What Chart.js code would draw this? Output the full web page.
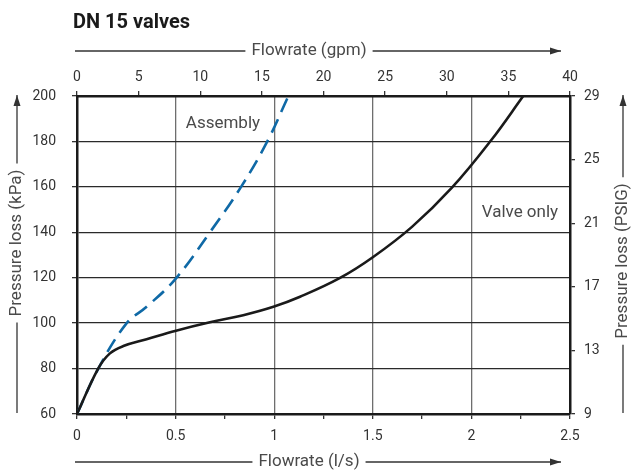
<!DOCTYPE html>
<html>
<head>
<meta charset="utf-8">
<script src="https://cdn.jsdelivr.net/npm/chart.js@4"></script>
<style>
  html, body { margin: 0; padding: 0; background: #fff; }
  #wrap { width: 638px; height: 471px; }
</style>
</head>
<body>
<div id="wrap"><canvas id="chart" width="638" height="471"></canvas></div>
<script>
// flowrate (l/s) and pressure loss (kPa)
const valveFlow = [0, 0.108, 0.167, 0.235, 0.353, 0.502, 0.674, 0.843, 0.996, 1.131, 1.334, 1.5, 1.7, 1.9, 2.1, 2.263];
const valveLoss = [60, 80.1, 86.7, 89.9, 92.9, 96.7, 100.4, 103.5, 107.2, 111.6, 119.9, 129, 142.5, 159.5, 180.5, 200];

const assemblyFlow = [0, 0.108, 0.252, 0.353, 0.5, 0.674, 0.832, 0.965, 1.072];
const assemblyLoss = [60, 80, 100, 107.2, 119.5, 140, 160, 180, 200];

// axis ranges
const flowRange = [0, 2.5];
const gpmRange = [0, 40];
const kpaRange = [60, 200];
const psiRange = [9, 29];

const chartTitle = 'DN 15 valves';
const axisTitles = {
    top: 'Flowrate (gpm)',
    bottom: 'Flowrate (l/s)',
    left: 'Pressure loss (kPa)',
    right: 'Pressure loss (PSIG)'
};
// curve labels: [text, flow, kPa]
const curveLabels = [
    ['Assembly', 0.74, 188],
    ['Valve only', 2.246, 148.5]
];

const toPoints = (xs, ys) => xs.map((x, i) => ({x: x, y: ys[i]}));

const FONT = 'Roboto, "Open Sans", sans-serif';
const TEXT = '#4a4a4a';

function arrowLine(ctx, x1, y1, x2, y2, arrow) {
    ctx.beginPath();
    ctx.moveTo(x1, y1);
    ctx.lineTo(x2, y2);
    ctx.stroke();
    if (!arrow) return;
    const a = Math.atan2(y2 - y1, x2 - x1);
    ctx.save();
    ctx.translate(x2, y2);
    ctx.rotate(a);
    ctx.beginPath();
    ctx.moveTo(0, 0);
    ctx.lineTo(-11, -3.5);
    ctx.lineTo(-11, 3.5);
    ctx.closePath();
    ctx.fill();
    ctx.restore();
}

const decorations = {
    id: 'decorations',
    afterDraw(chart) {
        const ctx = chart.ctx;
        const xs = chart.scales.x, ys = chart.scales.y;
        ctx.save();

        // title
        ctx.fillStyle = '#1a1a1a';
        ctx.font = 'bold 20px ' + FONT;
        ctx.textAlign = 'left';
        ctx.textBaseline = 'alphabetic';
        ctx.fillText(chartTitle, 73, 28);

        // curve labels
        ctx.fillStyle = TEXT;
        ctx.font = '17px ' + FONT;
        ctx.textAlign = 'center';
        ctx.textBaseline = 'middle';
        curveLabels.forEach(l => {
            ctx.fillText(l[0], xs.getPixelForValue(l[1]), ys.getPixelForValue(l[2]));
        });

        // axis titles with arrows
        ctx.strokeStyle = '#333';
        ctx.lineWidth = 1.3;
        ctx.font = '17px ' + FONT;

        const hTitle = (text, cy) => {
            const cx = 309;
            const w = ctx.measureText(text).width;
            ctx.fillStyle = TEXT;
            ctx.fillText(text, cx, cy);
            ctx.fillStyle = '#333';
            arrowLine(ctx, 75, cy, cx - w / 2 - 6, cy, false);
            arrowLine(ctx, cx + w / 2 + 6, cy, 561, cy, true);
        };
        hTitle(axisTitles.top, 51);
        hTitle(axisTitles.bottom, 462);

        const vTitle = (text, cx, cy) => {
            const w = ctx.measureText(text).width;
            ctx.save();
            ctx.translate(cx, cy);
            ctx.rotate(-Math.PI / 2);
            ctx.fillStyle = TEXT;
            ctx.fillText(text, 0, 0);
            ctx.restore();
            ctx.fillStyle = '#333';
            arrowLine(ctx, cx, cy - w / 2 - 6, cx, 95, true);
            arrowLine(ctx, cx, cy + w / 2 + 6, cx, 413, false);
        };
        vTitle(axisTitles.left, 17, 243);
        vTitle(axisTitles.right, 623, 261);

        ctx.restore();
    }
};

const tickFont = {family: FONT, size: 14};
const borderStyle = {color: '#1a1a1a', width: 2.5};

new Chart(document.getElementById('chart'), {
    type: 'line',
    data: {
        datasets: [{
            label: 'Valve only',
            data: toPoints(valveFlow, valveLoss),
            borderColor: '#1a1a1a',
            borderWidth: 2.6,
            pointRadius: 0,
            tension: 0.4
        }, {
            label: 'Assembly',
            data: toPoints(assemblyFlow, assemblyLoss),
            borderColor: '#0f69a6',
            borderWidth: 2.6,
            borderDash: [15, 8],
            pointRadius: 0,
            tension: 0.4
        }]
    },
    options: {
        responsive: false,
        animation: false,
        layout: {padding: 0},
        plugins: {
            legend: {display: false},
            tooltip: {enabled: false}
        },
        scales: {
            x: {
                type: 'linear',
                position: 'bottom',
                min: flowRange[0],
                max: flowRange[1],
                afterFit: s => { s.height = 57; },
                ticks: {
                    stepSize: 0.25,
                    padding: 9,
                    color: '#333',
                    font: tickFont,
                    maxRotation: 0,
                    autoSkip: false,
                    callback: v => (Math.round(v * 100) % 50 === 0 ? String(v) : '')
                },
                grid: {
                    color: c => (c.tick && Math.round(c.tick.value * 100) % 50 === 0 ? '#6e6e6e' : 'rgba(0,0,0,0)'),
                    tickColor: '#333',
                    tickLength: 5,
                    lineWidth: 1.3
                },
                border: borderStyle
            },
            x2: {
                type: 'linear',
                position: 'top',
                min: gpmRange[0],
                max: gpmRange[1],
                afterFit: s => { s.height = 96; },
                ticks: {stepSize: 5, padding: 5, color: '#333', font: tickFont, maxRotation: 0, autoSkip: false},
                grid: {drawOnChartArea: false, tickColor: '#333', tickLength: 5, lineWidth: 1.3},
                border: borderStyle
            },
            y: {
                type: 'linear',
                position: 'left',
                min: kpaRange[0],
                max: kpaRange[1],
                afterFit: s => { s.width = 77; },
                ticks: {stepSize: 20, padding: 16, color: '#333', font: tickFont},
                grid: {color: '#2a2a2a', tickColor: '#333', tickLength: 5, lineWidth: 1.3},
                border: borderStyle
            },
            y2: {
                type: 'linear',
                position: 'right',
                min: psiRange[0],
                max: psiRange[1],
                afterFit: s => { s.width = 68; },
                ticks: {stepSize: 4, padding: 9, color: '#333', font: tickFont},
                grid: {drawOnChartArea: false, tickColor: '#333', tickLength: 5, lineWidth: 1.3},
                border: borderStyle
            }
        }
    },
    plugins: [decorations]
});
</script>
</body>
</html>
